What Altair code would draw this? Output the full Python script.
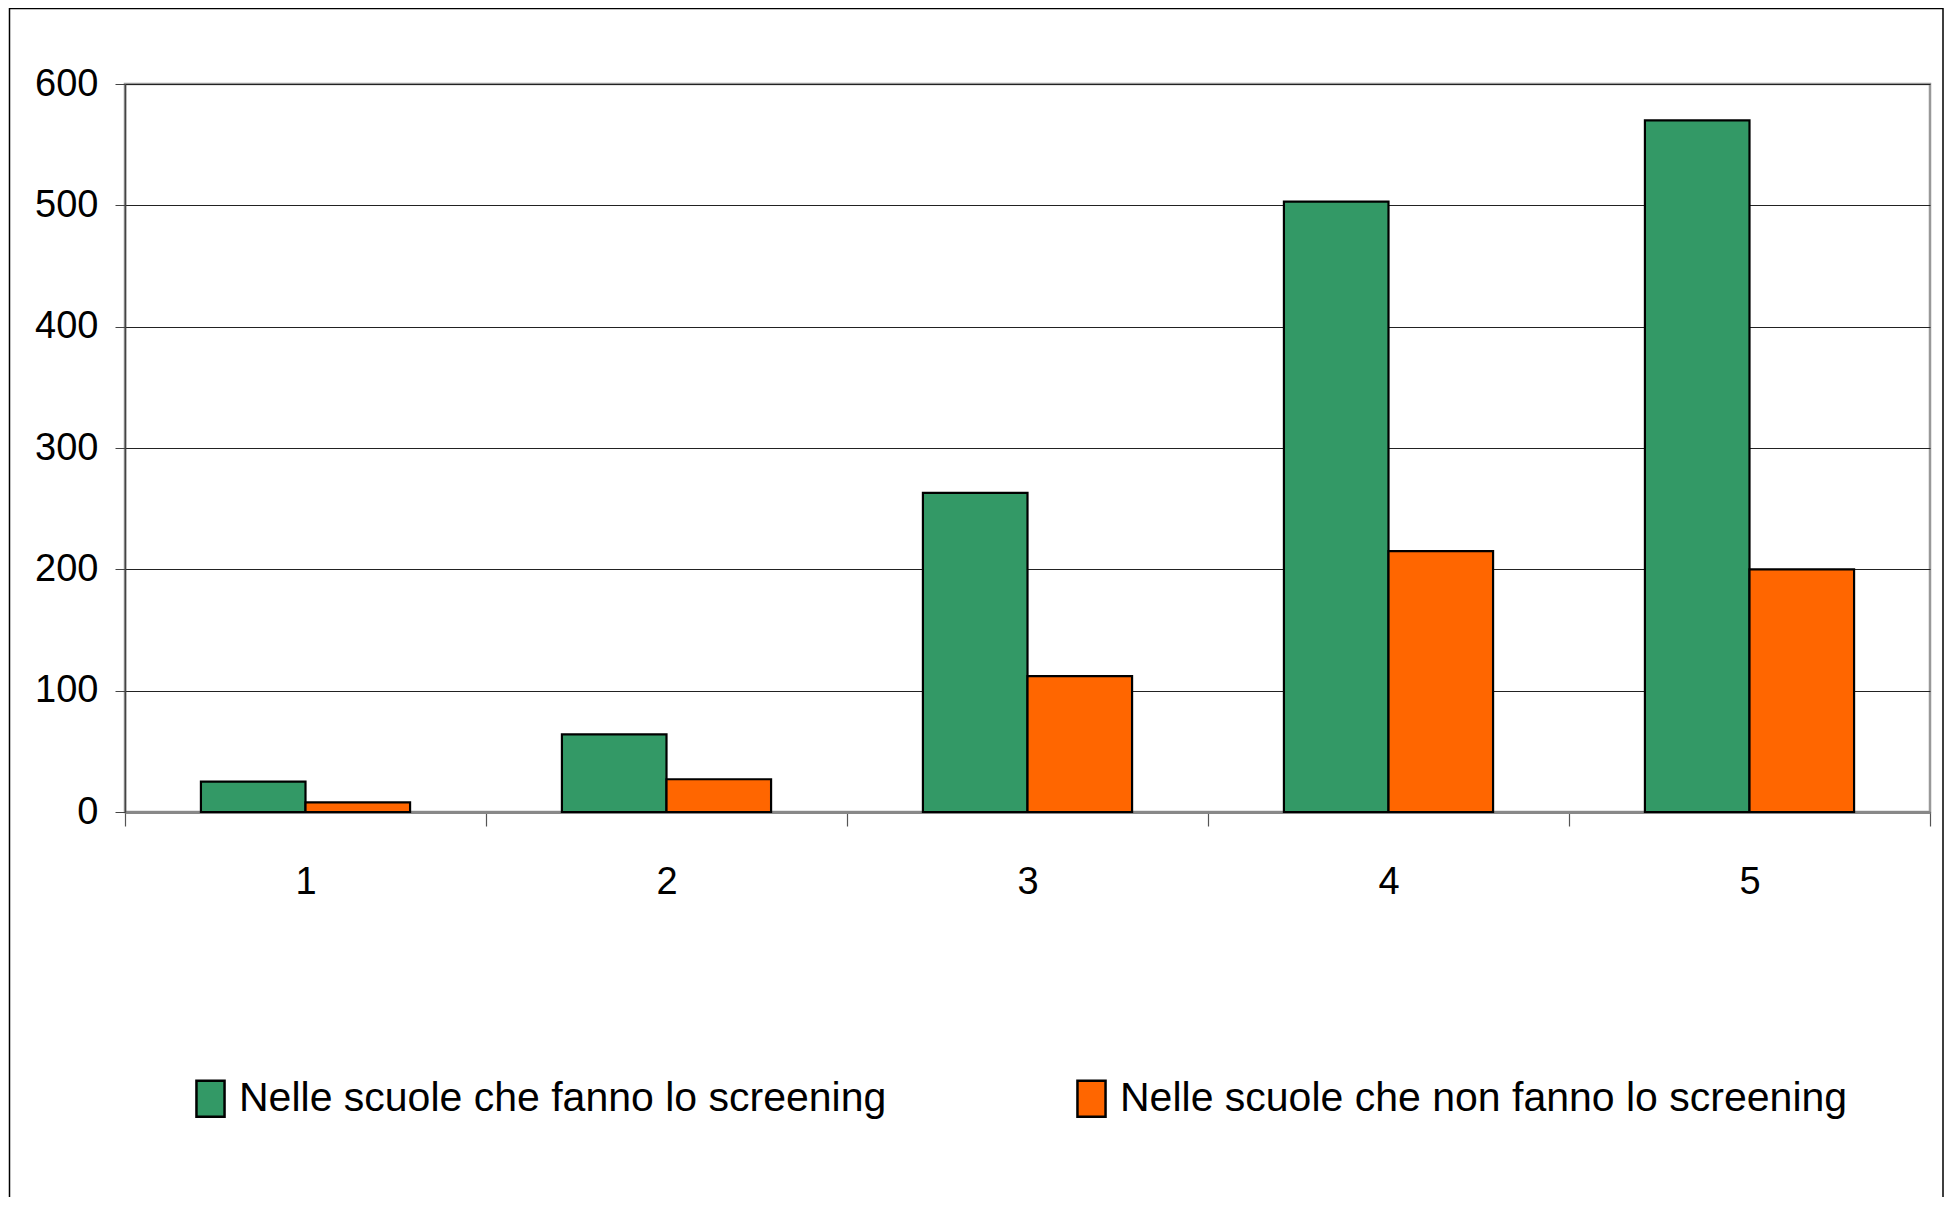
import altair as alt
import pandas as pd

categories = ["1", "2", "3", "4", "5"]
series_names = ["Nelle scuole che fanno lo screening", "Nelle scuole che non fanno lo screening"]
screening = [25, 64, 263, 503, 570]
no_screening = [8, 27, 112, 215, 200]
y_ticks = [0, 100, 200, 300, 400, 500, 600]
colors = ["#339966", "#FF6600"]

rows = []
for c, a, b in zip(categories, screening, no_screening):
    rows.append({"cat": c, "serie": series_names[0], "val": a})
    rows.append({"cat": c, "serie": series_names[1], "val": b})
df = pd.DataFrame(rows)

FONT = "Liberation Sans Narrow, Arial Narrow, Liberation Sans, Arial"

bars = alt.Chart(df).mark_bar(stroke="black", strokeWidth=2.2).encode(
    x=alt.X("cat:N", sort=categories,
            scale=alt.Scale(paddingInner=0, paddingOuter=0),
            axis=alt.Axis(title=None, labelAngle=0, tickBand="extent", tickSize=14,
                          tickColor="#555555", tickWidth=1.2,
                          domainColor="#888888", domainWidth=3,
                          labelFont=FONT, labelFontSize=38, labelColor="black",
                          labelPadding=37, grid=False)),
    xOffset=alt.XOffset("serie:N", sort=series_names,
                        scale=alt.Scale(paddingInner=0, paddingOuter=0.726)),
    y=alt.Y("val:Q", scale=alt.Scale(domain=[0, 600], nice=False),
            axis=alt.Axis(title=None, values=y_ticks, tickSize=10,
                          tickColor="#444444", domainColor="#444444", domainWidth=1.5,
                          gridColor="#222222", gridWidth=1,
                          labelFont=FONT, labelFontSize=38, labelColor="black",
                          labelPadding=17)),
    color=alt.Color("serie:N", sort=series_names,
                    scale=alt.Scale(domain=series_names, range=colors),
                    legend=alt.Legend(title=None, orient="none", direction="horizontal",
                                      legendX=65, legendY=994,
                                      symbolType="M-0.78,-1H0.78V1H-0.78Z",
                                      symbolSize=1296, symbolStrokeColor="black",
                                      symbolStrokeWidth=2.5, symbolOpacity=1,
                                      labelFont=FONT, labelFontSize=41, labelColor="black",
                                      labelLimit=1200, labelOffset=8,
                                      columnPadding=184)),
)

frame = alt.Chart(alt.Data(values=[{"f": 1}])).mark_rect(
    fill=None, stroke="black", strokeWidth=1.5
).encode(
    x=alt.value(-115.5), x2=alt.value(1818), y=alt.value(-75.5), y2=alt.value(1400)
)

chart = alt.layer(frame, bars).properties(
    width=1805, height=728,
    autosize=alt.AutoSizeParams(type="none"),
    padding={"left": 117, "top": 76, "right": 14, "bottom": 385},
    background="white",
).configure_view(stroke="#999999", strokeWidth=2.5)

chart.save("out.html", embed_options={"renderer": "svg", "actions": False})
